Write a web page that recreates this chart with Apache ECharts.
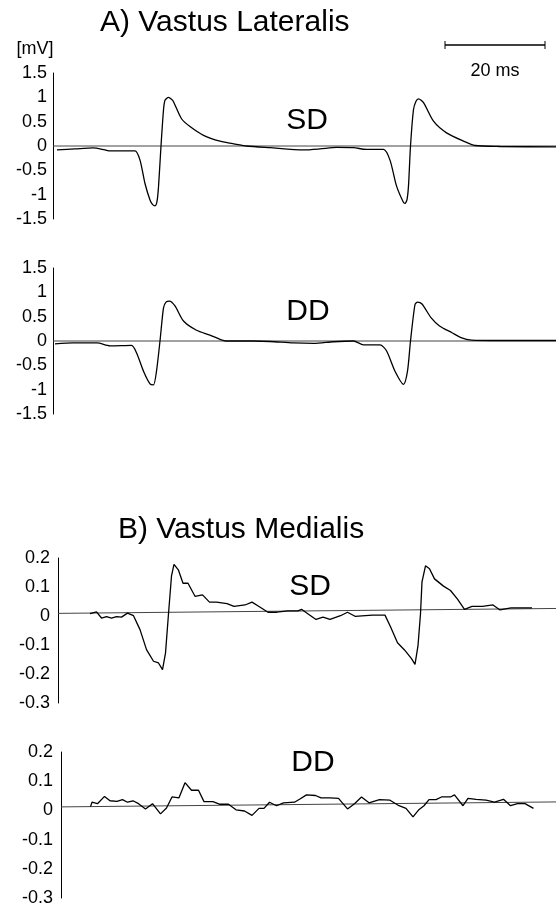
<!DOCTYPE html>
<html><head><meta charset="utf-8">
<script src="https://cdn.jsdelivr.net/npm/echarts@6/dist/echarts.min.js"></script>
<style>html,body{margin:0;padding:0;background:#fff}#c{width:556px;height:907px}</style>
</head><body><div id="c"></div>
<script>
// ---- data (time in ms, amplitude in mV) ----
const vlSdTime = [0.8,4.4,8.0,10.4,11.4,16.4,17.4,18.4,19.4,19.9,20.4,20.8,21.1,21.6,22.1,22.4,23.1,23.7,24.1,25.7,27.4,30.1,33.4,36.7,38.7,43.4,50.1,53.4,56.7,60.1,62.7,66.1,67.4,68.7,70.0,70.4,70.8,71.1,71.5,72.1,72.6,73.1,74.1,76.1,78.7,82.1,84.4,89.4,100.6];
const vlSdMv   = [-0.08,-0.06,-0.04,-0.08,-0.10,-0.10,-0.29,-0.77,-1.11,-1.20,-1.23,-1.14,-0.84,0,0.74,0.94,1.0,0.96,0.91,0.56,0.40,0.22,0.10,0.035,0,-0.035,-0.08,-0.06,-0.03,-0.035,-0.07,-0.07,-0.29,-0.82,-1.14,-1.18,-1.10,-0.82,0,0.75,0.92,0.97,0.89,0.51,0.27,0.10,0.01,-0.01,-0.02];

const vlDdTime = [0.4,4.0,8.8,11.4,15.7,16.7,18.1,19.4,20.1,20.7,21.4,22.1,22.6,23.3,24.4,26.1,28.7,31.4,33.4,34.7,40.0,43.4,48.1,52.1,56.1,60.1,62.1,65.4,66.7,68.4,70.1,70.9,71.5,72.4,72.9,73.8,75.6,77.3,79.8,81.6,83.7,89.4,100.6];
const vlDdMv   = [-0.06,-0.04,-0.04,-0.10,-0.09,-0.24,-0.62,-0.88,-0.90,-0.62,0,0.68,0.80,0.82,0.72,0.41,0.22,0.12,0.035,0,0,-0.01,-0.04,-0.05,-0.015,0,-0.08,-0.08,-0.20,-0.62,-0.89,-0.62,0,0.75,0.80,0.76,0.48,0.31,0.17,0.07,0.02,0.01,0.01];

const vmSdTime = [7.4,8.7,9.7,10.7,11.7,12.7,13.7,14.9,16.1,17.4,18.7,20.1,21.1,21.9,22.5,23.1,23.7,24.2,25.1,26.0,27.0,28.4,29.9,31.3,32.7,34.8,36.2,38.4,39.8,41.2,43.0,44.8,46.9,49.0,49.7,51.1,52.6,54.0,55.4,57.5,58.9,60.4,63.9,66.4,67.5,68.9,70.3,71.7,72.4,73.0,73.5,73.8,74.5,75.3,76.3,78.1,79.5,80.9,82.3,83.8,85.9,88.0,89.4,91.6,93.7,95.8];
const vmSdMv   = [0.008,0.014,-0.007,-0.002,-0.007,-0.002,-0.004,0.010,0.001,-0.047,-0.116,-0.156,-0.162,-0.185,-0.128,0.008,0.138,0.178,0.158,0.113,0.113,0.068,0.073,0.048,0.048,0.043,0.033,0.038,0.048,0.033,0.013,0.013,0.018,0.018,0.023,0.006,-0.012,-0.004,-0.012,0.001,0.013,-0.001,0.003,0.003,-0.037,-0.092,-0.117,-0.147,-0.167,-0.102,0.008,0.118,0.173,0.163,0.128,0.103,0.088,0.058,0.023,0.033,0.033,0.038,0.021,0.028,0.028,0.028];

const vmDdTime = [7.5,7.8,8.9,10.3,11.4,12.8,13.9,14.9,16.0,17.1,18.5,19.9,21.5,22.7,23.8,25.2,26.4,27.7,29.1,30.2,32.0,33.4,35.1,36.6,38.3,39.8,41.2,42.2,43.3,44.7,46.1,48.3,49.3,50.7,52.5,53.6,55.4,57.1,58.9,60.3,61.7,63.2,65.3,67.4,69.2,70.6,72.0,73.1,74.2,75.2,76.6,77.7,79.5,80.3,82.0,83.0,84.6,86.6,88.3,90.1,91.5,92.9,94.4,96.1];
const vmDdMv   = [0.013,0.028,0.023,0.048,0.033,0.031,0.037,0.028,0.033,0.023,0.005,0.023,-0.012,0.008,0.046,0.043,0.095,0.069,0.069,0.030,0.030,0.021,0.021,0.002,-0.002,-0.017,0.007,0.007,0.028,0.016,0.026,0.028,0.038,0.053,0.051,0.043,0.043,0.041,0.005,0.023,0.046,0.026,0.037,0.035,0.016,0.007,-0.022,0.001,0.016,0.037,0.037,0.046,0.046,0.053,0.016,0.041,0.038,0.035,0.028,0.038,0.016,0.023,0.023,0.007];

// reference (zero) lines as drawn in the figure
const baseVlTime = [0, 100.6];   const baseVlMv = [0, 0];
const baseVmSdTime = [1.0, 100.6]; const baseVmSdMv = [0.009, 0.026];
const baseVmDdTime = [1.6, 100.6]; const baseVmDdMv = [0.012, 0.029];

const yTicksVL = ['-1.5','-1','-0.5','0','0.5','1','1.5'];
const yTicksVM = ['-0.3','-0.2','-0.1','0','0.1','0.2'];

const scaleBarStart = 78.4, scaleBarLength = 20; // ms
const panelLabels = ['SD','DD','SD','DD'];

// ---- chart ----
const FONT = "'Liberation Sans', Arial, Helvetica, sans-serif";
const chart = echarts.init(document.getElementById('c'), null, {renderer:'canvas'});
const pair = (t, v) => t.map((x, i) => [x, v[i]]);

const grids = [
  {left:53, right:0, top:73,  height:146},
  {left:53, right:0, top:268, height:146},
  {left:58, right:0, top:558, height:145},
  {left:61, right:0, top:752, height:148}
];
const xMins = [0, 0, 1.0, 1.6];
const labelMargins = [6, 6, 8, 8];

const xAxes = grids.map((g, i) => ({gridIndex:i, type:'value', min:xMins[i], max:100.6, show:false}));
const yAxes = grids.map((g, i) => {
  const vl = i < 2;
  return {
    gridIndex:i, type:'value',
    min: vl ? -1.5 : -0.3, max: vl ? 1.5 : 0.2, interval: vl ? 0.5 : 0.1,
    axisLine:{show:true, onZero:false, lineStyle:{color:'#000', width:1}},
    axisTick:{show:false}, splitLine:{show:false},
    axisLabel:{color:'#000', fontFamily:FONT, fontSize:18, margin:labelMargins[i],
      formatter: v => { const arr = vl ? yTicksVL : yTicksVM; const idx = Math.round((v - (vl?-1.5:-0.3)) / (vl?0.5:0.1)); return arr[idx] !== undefined ? arr[idx] : ''; }}
  };
});

const traces = [pair(vlSdTime, vlSdMv), pair(vlDdTime, vlDdMv), pair(vmSdTime, vmSdMv), pair(vmDdTime, vmDdMv)];
const bases = [pair(baseVlTime, baseVlMv), pair(baseVlTime, baseVlMv), pair(baseVmSdTime, baseVmSdMv), pair(baseVmDdTime, baseVmDdMv)];

const series = [];
for (let i = 0; i < 4; i++) {
  series.push({type:'line', xAxisIndex:i, yAxisIndex:i, data:bases[i], symbol:'none', silent:true,
    lineStyle:{color:'#444', width:1}, z:1, animation:false});
  series.push({type:'line', xAxisIndex:i, yAxisIndex:i, data:traces[i], symbol:'none', silent:true,
    smooth: i < 2 ? 0.25 : false,
    lineStyle:{color:'#000', width:1.3}, z:2, animation:false});
}

const txt = (x, y, s, size, align) => ({type:'text', x:x, y:y, silent:true,
  style:{text:s, fill:'#000', font:`${size}px ${FONT}`, textAlign:align||'left', textVerticalAlign:'middle'}});

chart.setOption({
  backgroundColor:'#fff', animation:false,
  grid:grids, xAxis:xAxes, yAxis:yAxes, series:series
});

// scale bar via axis scale of first panel
const px0 = chart.convertToPixel({xAxisIndex:0}, scaleBarStart);
const px1 = chart.convertToPixel({xAxisIndex:0}, scaleBarStart + scaleBarLength);
const barY = 45;
chart.setOption({
  graphic:[
    txt(100, 23, 'A) Vastus Lateralis', 30),
    txt(118, 530, 'B) Vastus Medialis', 30),
    txt(35, 49, '[mV]', 18, 'center'),
    txt(307, 121, panelLabels[0], 30, 'center'),
    txt(308, 312, panelLabels[1], 30, 'center'),
    txt(310, 587, panelLabels[2], 30, 'center'),
    txt(313, 763, panelLabels[3], 30, 'center'),
    {type:'line', silent:true, shape:{x1:px0, y1:barY, x2:px1, y2:barY}, style:{stroke:'#000', lineWidth:1.4}},
    {type:'line', silent:true, shape:{x1:px0, y1:barY-4, x2:px0, y2:barY+4}, style:{stroke:'#000', lineWidth:1}},
    {type:'line', silent:true, shape:{x1:px1, y1:barY-4, x2:px1, y2:barY+4}, style:{stroke:'#000', lineWidth:1}},
    txt((px0+px1)/2, 71, scaleBarLength + ' ms', 18, 'center')
  ]
});
</script></body></html>
